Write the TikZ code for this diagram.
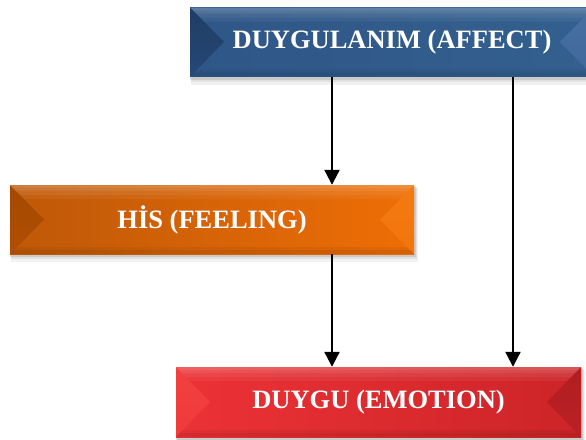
\documentclass[tikz,border=0pt]{standalone}
\usepackage{fontspec}
\setmainfont{Liberation Serif}
\usetikzlibrary{arrows.meta,calc,backgrounds}

\definecolor{blueL}{HTML}{2F5687}
\definecolor{blueR}{HTML}{33608F}
\definecolor{blueBevL}{HTML}{1F3D66}
\definecolor{blueBevR}{HTML}{4870A2}
\definecolor{orangeL}{HTML}{BE5808}
\definecolor{orangeR}{HTML}{EE6E06}
\definecolor{orangeBevL}{HTML}{A54800}
\definecolor{orangeBevR}{HTML}{F47A10}
\definecolor{redL}{HTML}{EC3236}
\definecolor{redR}{HTML}{CC2428}
\definecolor{redBevL}{HTML}{F2403F}
\definecolor{redBevR}{HTML}{B01E22}

\tikzset{
  panel/.style n args={4}{
    minimum width=404pt, minimum height=69pt, inner sep=0pt,
    text=white, font=\fontsize{26.5}{30}\selectfont\bfseries,
    left color=#1, right color=#2,
    path picture={
      % angled bevel faces on the short sides
      \shade[top color=#3, bottom color=#3!55!#1] (path picture bounding box.north west)
        -- (path picture bounding box.south west)
        -- ($(path picture bounding box.west)+(34,0)$) -- cycle;
      \shade[top color=#4, bottom color=#4!60!#2] (path picture bounding box.north east)
        -- (path picture bounding box.south east)
        -- ($(path picture bounding box.east)+(-34,0)$) -- cycle;
      % soft light top edge, darker bottom edge
      \foreach \d/\o in {14/0.05,10/0.06,6/0.07,3/0.07} {
        \fill[white,opacity=\o] (path picture bounding box.north west)
          -- (path picture bounding box.north east)
          -- ($(path picture bounding box.north east)+(-\d,\d)$)
          -- ($(path picture bounding box.north west)+(\d,\d)$) -- cycle;
      }
      \foreach \d/\o in {7/0.05,4/0.05} {
        \fill[black,opacity=\o] (path picture bounding box.south west)
          -- (path picture bounding box.south east)
          -- ($(path picture bounding box.south east)+(-\d,-\d)$)
          -- ($(path picture bounding box.south west)+(\d,-\d)$) -- cycle;
      }
    }
  },
  conn/.style={line width=2.2pt, -{Triangle[width=15pt,length=15pt]}},
}

\newcommand{\panelshadow}[1]{%
  \fill[black,opacity=0.05] ($(#1.north west)+(1,3)$) rectangle ($(#1.south east)+(4,8)$);
  \fill[black,opacity=0.07] ($(#1.north west)+(1,2)$) rectangle ($(#1.south east)+(3,5)$);
  \fill[black,opacity=0.10] ($(#1.north west)+(0,1)$) rectangle ($(#1.south east)+(2,3)$);
}

\begin{document}
\begin{tikzpicture}[x=1pt,y=-1pt]
  \useasboundingbox (0,0) rectangle (586,439);

  \node[panel={blueL}{blueR}{blueBevL}{blueBevR}]
    (affect) at (392,42) {DUYGULANIM (AFFECT)};
  \node[panel={orangeL}{orangeR}{orangeBevL}{orangeBevR}]
    (feeling) at (212,219.5) {HİS (FEELING)};
  \node[panel={redL}{redR}{redBevL}{redBevR}, minimum width=405pt, minimum height=70pt]
    (emotion) at (378.5,402) {DUYGU (EMOTION)};

  \begin{scope}[on background layer]
    \panelshadow{affect}
    \panelshadow{feeling}
    \panelshadow{emotion}
  \end{scope}

  \coordinate (colA) at (332,0);
  \coordinate (colB) at (513,0);

  \draw[conn] (affect.south -| colA) -- (feeling.north -| colA);
  \draw[conn] (feeling.south -| colA) -- (emotion.north -| colA);
  \draw[conn] (affect.south -| colB) -- (emotion.north -| colB);
\end{tikzpicture}
\end{document}
